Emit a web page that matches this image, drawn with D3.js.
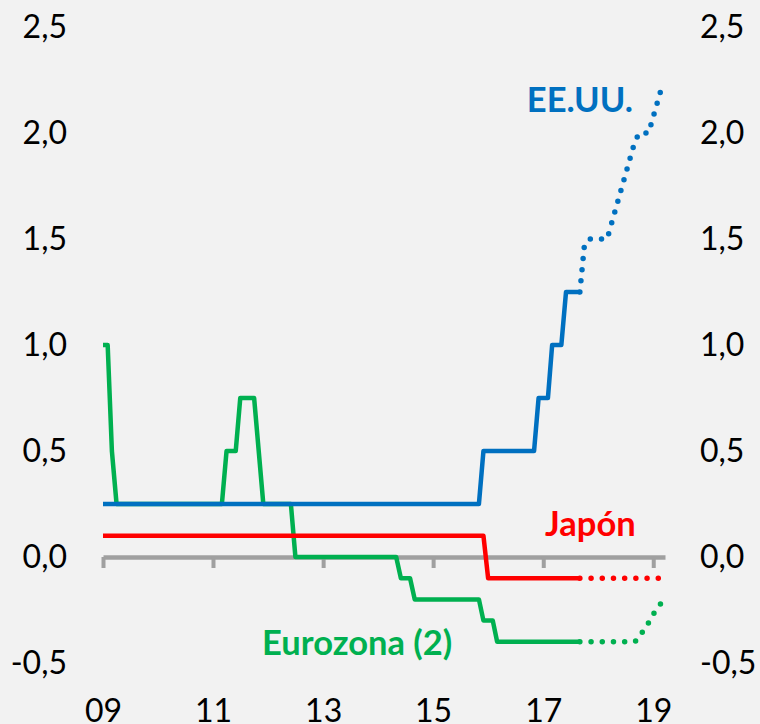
<!DOCTYPE html>
<html>
<head>
<meta charset="utf-8">
<script src="https://cdn.jsdelivr.net/npm/d3@7"></script>
<style>
    html, body { margin: 0; padding: 0; background: #f2f2f2; }
    svg { display: block; font-family: Lato, "Open Sans", sans-serif; }
</style>
</head>
<body>
<svg id="chart"></svg>
<script>

// Policy rates, vertices of the plotted lines (month, %)
const euroRates = [
    ["2009-01", 1.0], ["2009-02", 1.0], ["2009-03", 0.5], ["2009-04", 0.25],
    ["2011-03", 0.25], ["2011-04", 0.5], ["2011-06", 0.5], ["2011-07", 0.75],
    ["2011-10", 0.75], ["2011-12", 0.25], ["2012-06", 0.25], ["2012-07", 0.0],
    ["2014-05", 0.0], ["2014-06", -0.1], ["2014-08", -0.1], ["2014-09", -0.2],
    ["2015-11", -0.2], ["2015-12", -0.3], ["2016-02", -0.3], ["2016-03", -0.4],
    ["2017-09", -0.4]
];
const euroForward = [
    ["2017-09", -0.4], ["2018-09", -0.4], ["2018-10", -0.38], ["2018-11", -0.34],
    ["2018-12", -0.31], ["2019-01", -0.27], ["2019-02-20", -0.22]
];

const japanRates = [
    ["2009-01", 0.1], ["2015-12", 0.1], ["2016-01", -0.1], ["2017-09", -0.1]
];
const japanForward = [
    ["2017-09", -0.1], ["2019-02-20", -0.1]
];

const usRates = [
    ["2009-01", 0.25], ["2015-11", 0.25], ["2015-12", 0.5], ["2016-11", 0.5],
    ["2016-12", 0.75], ["2017-02", 0.75], ["2017-03", 1.0], ["2017-05", 1.0],
    ["2017-06", 1.25], ["2017-09", 1.25]
];
const usForward = [
    ["2017-09", 1.25], ["2017-10", 1.47], ["2017-11", 1.5], ["2018-03", 1.5],
    ["2018-09", 1.96], ["2018-10", 2.0], ["2018-12", 2.0], ["2019-02-20", 2.2]
];

const yearTicks = ["09", "11", "13", "15", "17", "19"];
const rateTicks = [-0.5, 0, 0.5, 1.0, 1.5, 2.0, 2.5];

// name, anchor month, anchor value
const seriesLabels = [
    ["EE.UU.", "2017-09-01", 2.1],
    ["Japón", "2017-11-10", 0.1],
    ["Eurozona (2)", "2013-08-15", -0.462]
];

const BLUE = "#0070c0";
const RED = "#ff0000";
const GREEN = "#00b050";
const AXIS_GRAY = "#a0a0a0";

const WIDTH = 760;
const HEIGHT = 724;
const LINE_WIDTH = 4.5;
const FONT_SIZE = 32;
const LABEL_FONT_SIZE = 34.5;

const parseMonth = d3.timeParse("%Y-%m");
const parseDay = d3.timeParse("%Y-%m-%d");
const toDate = (s) => parseMonth(s) ?? parseDay(s);

const svg = d3.select("#chart")
    .attr("width", WIDTH)
    .attr("height", HEIGHT)
    .attr("viewBox", `0 0 ${WIDTH} ${HEIGHT}`);

const x = d3.scaleTime()
    .domain([toDate("2009-01-01"), toDate("2019-03-20")])
    .range([103, 665]);

const y = d3.scaleLinear()
    .domain([-0.5, 2.5])
    .range([663, 27]);

const esLocale = d3.formatLocale({
    decimal: ",", thousands: ".", grouping: [3], currency: ["", " €"], minus: "-"
});
const fmt = esLocale.format(".1f");

// Left and right value labels, no axis line
svg.append("g")
    .attr("transform", "translate(67,0)")
    .call(d3.axisLeft(y).tickValues(rateTicks).tickFormat(fmt).tickSize(0).tickPadding(0))
    .call((g) => g.select(".domain").remove());

svg.append("g")
    .attr("transform", "translate(700,0)")
    .call(d3.axisRight(y).tickValues(rateTicks).tickFormat(fmt).tickSize(0).tickPadding(0))
    .call((g) => g.select(".domain").remove());

// Time axis sitting on the zero line
const xAxis = svg.append("g")
    .attr("transform", `translate(0,${y(0)})`)
    .call(d3.axisBottom(x)
        .tickValues(yearTicks.map((t) => toDate(`20${t}-01`)))
        .tickFormat((d, i) => yearTicks[i])
        .tickSize(11)
        .tickSizeOuter(0)
        .tickPadding(y(-0.5) - y(0) + 25));
xAxis.select(".domain")
    .attr("stroke", AXIS_GRAY)
    .attr("stroke-width", 4.5);
xAxis.selectAll(".tick line")
    .attr("stroke", AXIS_GRAY)
    .attr("stroke-width", 4);

svg.selectAll(".tick text")
    .attr("fill", "#000")
    .attr("font-size", FONT_SIZE)
    .attr("font-family", "Lato, 'Open Sans', sans-serif");

const line = d3.line()
    .x((d) => x(toDate(d[0])))
    .y((d) => y(d[1]));

/**
 * @param {Array} data
 * @param {string} colour
 * @param {boolean} dotted
 */
function drawSeries(data, colour, dotted) {
    const path = svg.append("path")
        .datum(data)
        .attr("d", line)
        .attr("fill", "none")
        .attr("stroke", colour)
        .attr("stroke-width", dotted ? 5.5 : LINE_WIDTH)
        .attr("stroke-linejoin", "round");
    if(dotted) {
        path.attr("stroke-dasharray", "0 11.2")
            .attr("stroke-linecap", "round");
    }
}

drawSeries(euroRates, GREEN, false);
drawSeries(euroForward, GREEN, true);
drawSeries(japanRates, RED, false);
drawSeries(japanForward, RED, true);
drawSeries(usRates, BLUE, false);
drawSeries(usForward, BLUE, true);

const labelColours = [BLUE, RED, GREEN];
svg.selectAll(".series-label").data(seriesLabels).join("text")
    .attr("class", "series-label")
    .attr("x", (d) => x(toDate(d[1])))
    .attr("y", (d) => y(d[2]))
    .attr("text-anchor", "middle")
    .attr("font-size", LABEL_FONT_SIZE)
    .attr("font-weight", "bold")
    .attr("fill", (d, i) => labelColours[i])
    .text((d) => d[0]);

</script>
</body>
</html>
